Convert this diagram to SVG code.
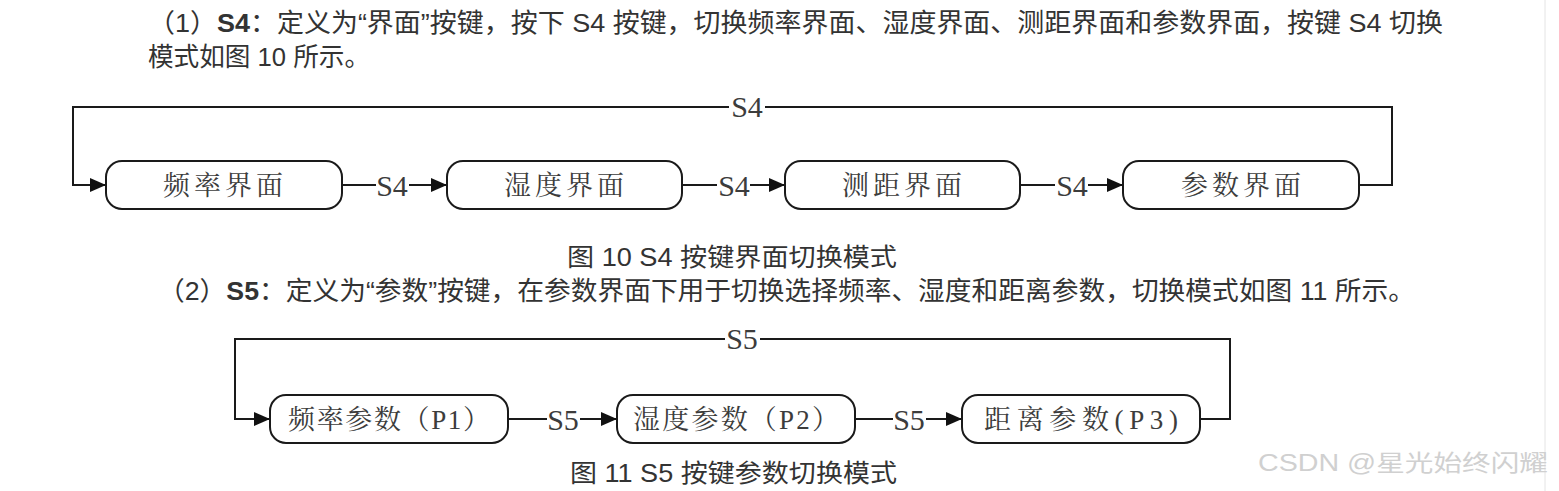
<svg xmlns="http://www.w3.org/2000/svg" width="1559" height="491" viewBox="0 0 1559 491">
<defs>
<marker id="arr" markerWidth="16" markerHeight="14" refX="16" refY="7" orient="auto" markerUnits="userSpaceOnUse">
<path d="M0,0 L16,7 L0,14 Z" fill="#111"/>
</marker>
<style>
.para{font-family:"Liberation Sans","Noto Sans CJK SC",sans-serif;font-size:26px;fill:#333}
.cap{font-family:"Liberation Sans","Noto Sans CJK SC",sans-serif;font-size:25px;fill:#333}
.box{fill:#fff;stroke:#1a1a1a;stroke-width:2}
.ntxt{font-family:"Liberation Serif","Noto Serif CJK SC","Noto Sans CJK SC",serif;font-size:27px;fill:#3c3c3c;text-anchor:middle}
.lab{font-family:"Liberation Serif",serif;font-size:30px;fill:#3c3c3c;text-anchor:middle}
.ln{fill:none;stroke:#1a1a1a;stroke-width:2}
.wm{font-family:"Liberation Sans","Noto Sans CJK SC",sans-serif;font-size:23px;fill:#d0d0d0}
</style>
</defs>
<rect width="1559" height="491" fill="#fff"/>
<line x1="1545" y1="0" x2="1545" y2="491" stroke="#e4e4e4" stroke-width="1"/>

<g id="paragraphs">
<text class="para" x="148" y="32" textLength="1295" lengthAdjust="spacingAndGlyphs">（1）<tspan font-weight="bold">S4</tspan>：定义为“界面”按键，按下 S4 按键，切换频率界面、湿度界面、测距界面和参数界面，按键 S4 切换</text>
<text class="para" x="148" y="66" textLength="222" lengthAdjust="spacingAndGlyphs">模式如图 10 所示。</text>
<text class="cap" x="567" y="266" textLength="330" lengthAdjust="spacingAndGlyphs">图 10 S4 按键界面切换模式</text>
<text class="para" x="158" y="300" textLength="1257" lengthAdjust="spacingAndGlyphs">（2）<tspan font-weight="bold">S5</tspan>：定义为“参数”按键，在参数界面下用于切换选择频率、湿度和距离参数，切换模式如图 11 所示。</text>
<text class="cap" x="570" y="482" textLength="327" lengthAdjust="spacingAndGlyphs">图 11 S5 按键参数切换模式</text>
</g>

<g id="connectors">
<path class="ln" d="M1359,185 H1392 V107 H765"/>
<path class="ln" d="M729,107 H73 V185 H106" marker-end="url(#arr)"/>
<text class="lab" x="747" y="117">S4</text>
<path class="ln" d="M342,185 H376"/>
<path class="ln" d="M409,185 H447" marker-end="url(#arr)"/>
<text class="lab" x="392" y="196">S4</text>
<path class="ln" d="M682,185 H717"/>
<path class="ln" d="M750,185 H785" marker-end="url(#arr)"/>
<text class="lab" x="734" y="196">S4</text>
<path class="ln" d="M1020,185 H1055"/>
<path class="ln" d="M1088,185 H1123" marker-end="url(#arr)"/>
<text class="lab" x="1072" y="196">S4</text>

<path class="ln" d="M1200,419 H1230 V339 H760"/>
<path class="ln" d="M725,339 H235 V419 H270" marker-end="url(#arr)"/>
<text class="lab" x="742" y="349">S5</text>
<path class="ln" d="M508,419 H547"/>
<path class="ln" d="M580,419 H617" marker-end="url(#arr)"/>
<text class="lab" x="563" y="430">S5</text>
<path class="ln" d="M855,419 H893"/>
<path class="ln" d="M926,419 H962" marker-end="url(#arr)"/>
<text class="lab" x="909" y="430">S5</text>
</g>

<g id="n1"><rect class="box" x="106" y="161" width="236" height="48" rx="16"/><text class="ntxt" x="223" y="195" textLength="120">频率界面</text></g>
<g id="n2"><rect class="box" x="447" y="161" width="235" height="48" rx="16"/><text class="ntxt" x="564" y="195" textLength="120">湿度界面</text></g>
<g id="n3"><rect class="box" x="785" y="161" width="235" height="48" rx="16"/><text class="ntxt" x="902" y="195" textLength="120">测距界面</text></g>
<g id="n4"><rect class="box" x="1123" y="161" width="236" height="48" rx="16"/><text class="ntxt" x="1241" y="195" textLength="120">参数界面</text></g>

<g id="p1"><rect class="box" x="270" y="395" width="238" height="48" rx="16"/><text class="ntxt" x="389" y="429" textLength="202">频率参数（P1）</text></g>
<g id="p2"><rect class="box" x="617" y="395" width="238" height="48" rx="16"/><text class="ntxt" x="736" y="429" textLength="206">湿度参数（P2）</text></g>
<g id="p3"><rect class="box" x="962" y="395" width="238" height="48" rx="16"/><text class="ntxt" x="1081" y="429" textLength="194">距离参数(P3)</text></g>

<text class="wm" x="1258" y="471" textLength="290" lengthAdjust="spacingAndGlyphs">CSDN @星光始终闪耀</text>
</svg>
